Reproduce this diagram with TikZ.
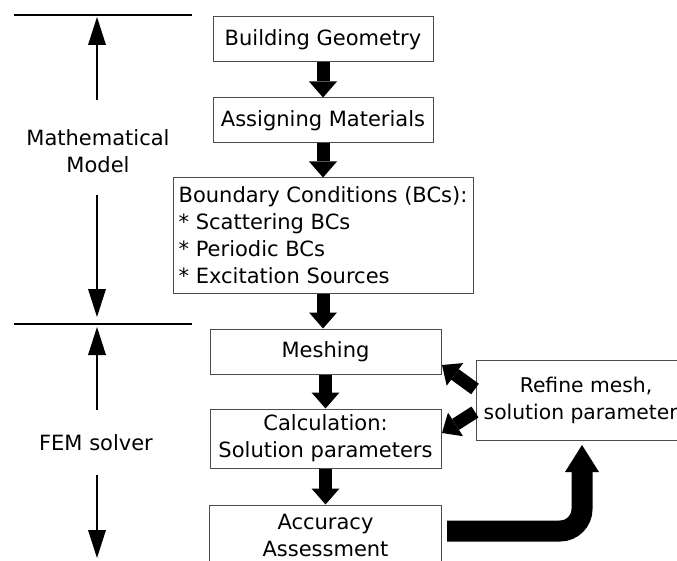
\documentclass[tikz,border=0pt]{standalone}
\usepackage{fontspec}
\setmainfont{DejaVu Sans}
\usetikzlibrary{arrows.meta}
\begin{document}
\begin{tikzpicture}[x=1pt,y=-1pt,
  box/.style={draw=black!70, line width=1pt, inner sep=0pt, align=center, font=\fontsize{21}{27}\selectfont},
  blockarrow/.style={line width=13pt, -{Triangle[length=16pt,width=28pt,line width=0pt]}},
  thinarrow/.style={line width=2pt, -{Triangle[length=28pt,width=18pt,line width=0pt]}},
  bigarrow/.style={line width=21pt, rounded corners=22pt, -{Triangle[length=27pt,width=34pt,line width=0pt]}},
  sepline/.style={line width=2pt},
  lbl/.style={align=center, font=\fontsize{21}{27}\selectfont, inner sep=0pt}]
\useasboundingbox (0,0) rectangle (677,561);
\clip (0,0) rectangle (677,561);

% boxes
\node[box, minimum width=220pt, minimum height=45pt] (geo) at (323,39.5) {Building Geometry};
\node[box, minimum width=220pt, minimum height=45pt] (mat) at (323,120.5) {Assigning Materials};
\node[box, minimum width=300pt, minimum height=115pt, align=left] (bc) at (323,235.5)
  {Boundary Conditions (BCs):\\{*} Scattering BCs\\{*} Periodic BCs\\{*} Excitation Sources};
\node[box, minimum width=231pt, minimum height=45pt] (mesh) at (325.5,351.5) {Meshing};
\node[box, minimum width=231pt, minimum height=59pt] (calc) at (325.5,438.5) {Calculation:\\Solution parameters};
\node[box, minimum width=232pt, minimum height=60pt] (acc) at (325.5,535) {Accuracy\\Assessment};
\node[box, minimum width=220pt, minimum height=80pt, font=\fontsize{20.3}{27}\selectfont] (ref) at (586,400) {Refine mesh,\\solution parameters};

% block arrows
\draw[blockarrow] (geo.south) -- (mat.north);
\draw[blockarrow] (mat.south) -- (bc.north);
\draw[blockarrow] (bc.south) -- (bc.south |- mesh.north);
\draw[blockarrow] (mesh.south) -- (calc.north);
\draw[blockarrow] (calc.south) -- (acc.north);

\coordinate (r1) at (475,389);
\coordinate (m1) at (442,365);
\coordinate (r2) at (475,412);
\coordinate (c2) at (442,433);
\draw[blockarrow] (r1) -- (m1);
\draw[blockarrow] (r2) -- (c2);

\coordinate (a1) at (447,531);
\coordinate (bend) at (582,531);
\coordinate (rtip) at (582,445);
\draw[bigarrow] (a1) -- (bend) -- (rtip);

% left side
\coordinate (l1a) at (14,15);
\coordinate (l1b) at (192,15);
\coordinate (l2a) at (14,324);
\coordinate (l2b) at (192,324);
\draw[sepline] (l1a) -- (l1b);
\draw[sepline] (l2a) -- (l2b);

\node[lbl] (mm) at (98,151) {Mathematical\\Model};
\node[lbl] (fem) at (96,443) {FEM solver};

\coordinate (mu1) at (97,100);
\coordinate (mu2) at (97,17);
\coordinate (md1) at (97,195);
\coordinate (md2) at (97,317);
\coordinate (fu1) at (97,410);
\coordinate (fu2) at (97,327);
\coordinate (fd1) at (97,475);
\coordinate (fd2) at (97,558);
\draw[thinarrow] (mu1) -- (mu2);
\draw[thinarrow] (md1) -- (md2);
\draw[thinarrow] (fu1) -- (fu2);
\draw[thinarrow] (fd1) -- (fd2);
\end{tikzpicture}
\end{document}
